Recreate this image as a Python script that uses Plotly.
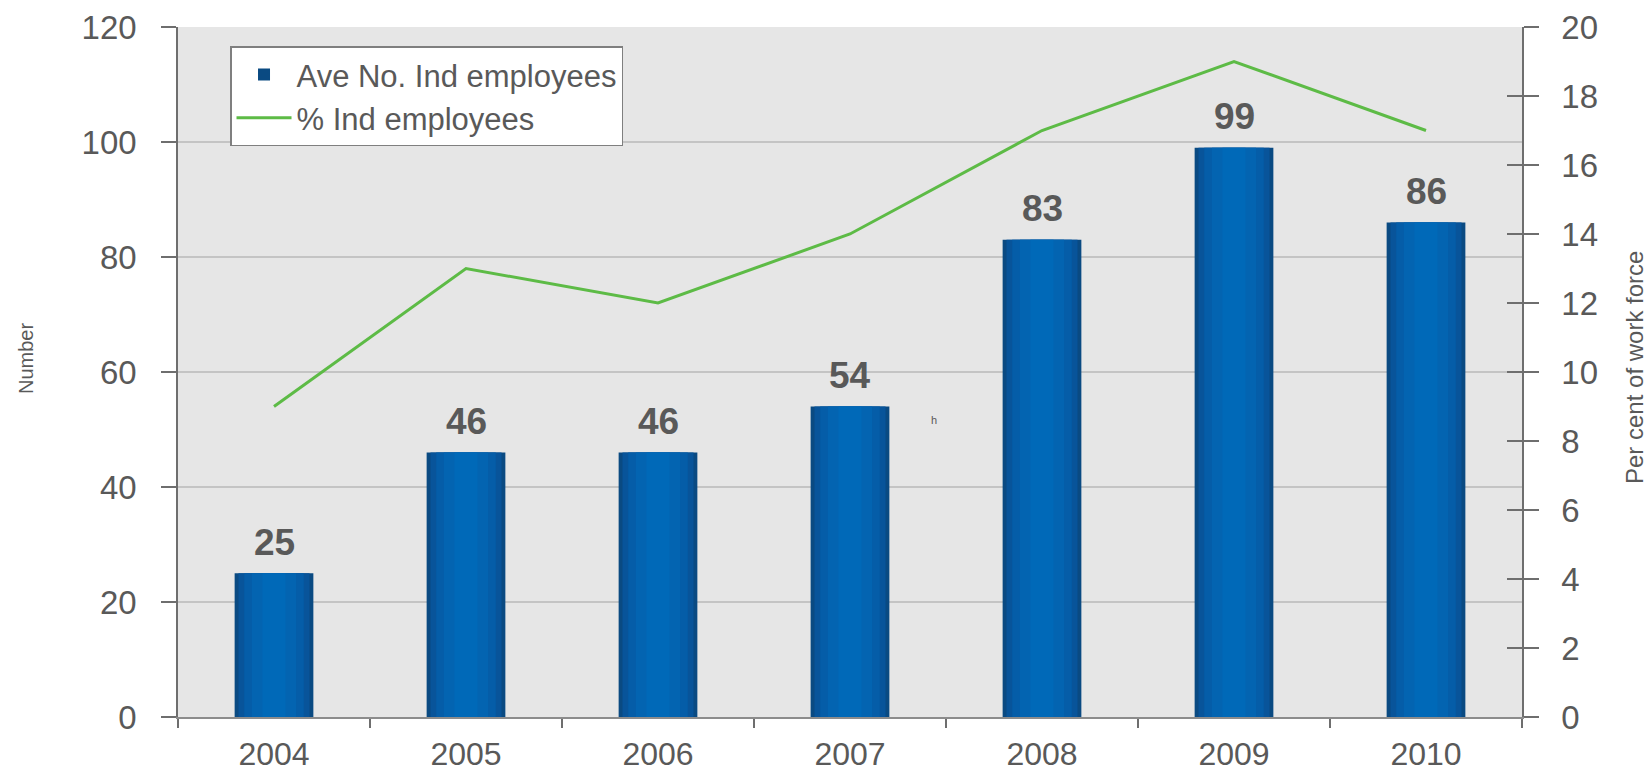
import plotly.graph_objects as go

years = ["2004", "2005", "2006", "2007", "2008", "2009", "2010"]
ave_no = [25, 46, 46, 54, 83, 99, 86]
pct = [9, 13, 12, 14, 17, 19, 17]
left_ticks = [0, 20, 40, 60, 80, 100, 120]
right_ticks = [0, 2, 4, 6, 8, 10, 12, 14, 16, 18, 20]

TXT = "#595959"
FONT = "Liberation Sans, Arial, sans-serif"

fig = go.Figure()

# layered bars to imitate the horizontal gradient of the original bars
layers = [(0.41, "#0A4A82"), (0.37, "#08549A"), (0.31, "#055DA8"),
          (0.23, "#0364B1"), (0.12, "#0069B8")]
for i, (w, c) in enumerate(layers):
    fig.add_trace(go.Bar(
        x=years, y=ave_no, width=w, marker=dict(color=c, line=dict(width=0)),
        name="Ave No. Ind employees", showlegend=(i == 0),
        legendgroup="bars", yaxis="y"))

fig.add_trace(go.Scatter(
    x=years, y=pct, mode="lines", name="% Ind employees",
    line=dict(color="#5DBB46", width=3), yaxis="y2"))

# invisible helper on y3 to draw the inward half of the right-axis ticks
fig.add_trace(go.Scatter(
    x=years, y=pct, mode="lines", opacity=0, showlegend=False,
    hoverinfo="skip", yaxis="y3"))

annotations = []
for i, v in enumerate(ave_no):
    annotations.append(dict(
        x=i, y=v, xref="x", yref="y", text=str(v), showarrow=False,
        yshift=31, yanchor="middle",
        font=dict(family=FONT, size=37, color=TXT, weight="bold")))

annotations.append(dict(x=3.44, y=51.7, xref="x", yref="y", text="h",
                        showarrow=False, font=dict(family=FONT, size=11, color=TXT)))
annotations.append(dict(x=-152 / 1344, y=(717 - 359) / 690, xref="paper", yref="paper",
                        xanchor="center", yanchor="middle", text="Number", textangle=-90,
                        showarrow=False, font=dict(family=FONT, size=20, color=TXT)))
annotations.append(dict(x=(1634 - 178) / 1344, y=(717 - 368) / 690, xref="paper",
                        yref="paper", xanchor="center", yanchor="middle",
                        text="Per cent of work force", textangle=-90, showarrow=False,
                        font=dict(family=FONT, size=24, color=TXT)))

fig.update_layout(
    width=1644, height=765,
    margin=dict(l=170, r=130, t=19, b=56, autoexpand=False),
    paper_bgcolor="white", plot_bgcolor="#E6E6E6",
    barmode="overlay",
    font=dict(family=FONT, color=TXT, size=32),
    showlegend=True,
    legend=dict(x=0.0387, y=0.972, xanchor="left", yanchor="top",
                bgcolor="white", bordercolor="#7F7F7F", borderwidth=1.5,
                font=dict(family=FONT, size=31, color=TXT),
                traceorder="normal", tracegroupgap=0, itemwidth=55),
    xaxis=dict(type="category", range=[-0.5, 6.5], autorange=False, showgrid=False,
               ticks="outside", tickson="boundaries", automargin=False,
               ticklen=9, tickwidth=1.5, tickcolor="#6E6E6E",
               showline=True, linecolor="#8C8C8C", linewidth=1.5, tickangle=0,
               tickfont=dict(size=32, color=TXT), ticklabelstandoff=8),
    yaxis=dict(range=[0, 120], tickvals=left_ticks, showgrid=True, automargin=False,
               gridcolor="#C4C4C4", gridwidth=1.5, ticks="outside", ticklen=15,
               tickwidth=1.5, tickcolor="#6E6E6E", showline=True,
               linecolor="#6E6E6E", linewidth=1.5, zeroline=False,
               tickfont=dict(size=33, color=TXT), ticklabelstandoff=18),
    yaxis2=dict(range=[0, 20], tickvals=right_ticks, overlaying="y", side="right",
                showgrid=False, ticks="outside", ticklen=15, tickwidth=1.5,
                automargin=False,
                tickcolor="#6E6E6E", showline=True, linecolor="#6E6E6E",
                linewidth=1.5, zeroline=False,
                tickfont=dict(size=33, color=TXT), ticklabelstandoff=16),
    yaxis3=dict(range=[0, 20], tickvals=right_ticks, overlaying="y", side="right",
                anchor="x", showgrid=False, ticks="inside", ticklen=15, tickwidth=1.5,
                automargin=False,
                tickcolor="#6E6E6E", showline=False, zeroline=False,
                showticklabels=False),
    annotations=annotations,
)

fig.write_html("out.html")
